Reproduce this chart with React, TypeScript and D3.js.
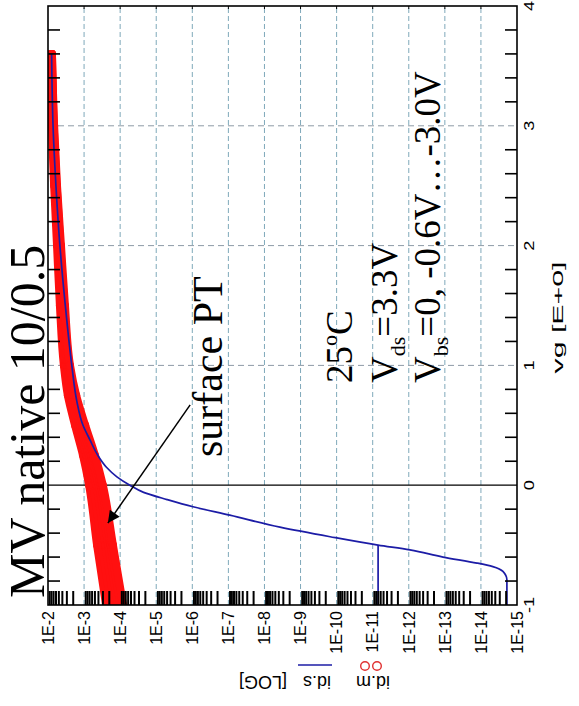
import React from "react";
import * as d3 from "d3";

// ---- axis ticks / labels ----
const vgTickValues = [-1, 0, 1, 2, 3, 4];
const vgGridValues = [1, 2, 3];
const decadeExponents = [-2, -3, -4, -5, -6, -7, -8, -9, -10, -11, -12, -13, -14, -15];
const decadeLabels = ["1E-2", "1E-3", "1E-4", "1E-5", "1E-6", "1E-7", "1E-8", "1E-9", "1E-10", "1E-11", "1E-12", "1E-13", "1E-14", "1E-15"];

// ---- measured id (log10 A), one series per Vbs ----
const vgMeas = [-1, -0.5, 0, 0.25, 0.5, 0.75, 1, 1.5, 2, 2.5, 3, 3.6];
const idmVbs0 = [-3.61, -3.36, -3.14, -2.97, -2.75, -2.55, -2.44, -2.33, -2.25, -2.17, -2.11, -2.08];
const idmVbsM06 = [-3.75, -3.49, -3.25, -3.07, -2.83, -2.62, -2.49, -2.37, -2.28, -2.19, -2.13, -2.09];
const idmVbsM12 = [-3.85, -3.59, -3.34, -3.14, -2.89, -2.67, -2.53, -2.4, -2.31, -2.21, -2.14, -2.1];
const idmVbsM18 = [-3.94, -3.67, -3.41, -3.2, -2.94, -2.71, -2.56, -2.43, -2.33, -2.22, -2.15, -2.1];
const idmVbsM24 = [-4.01, -3.74, -3.47, -3.26, -2.99, -2.74, -2.59, -2.45, -2.34, -2.24, -2.16, -2.11];
const idmVbsM30 = [-4.08, -3.8, -3.52, -3.3, -3.03, -2.78, -2.61, -2.47, -2.36, -2.25, -2.17, -2.11];
const idmSeries = [idmVbs0, idmVbsM06, idmVbsM12, idmVbsM18, idmVbsM24, idmVbsM30];

// ---- simulated id (log10 A) ----
const vgSim = [-1.0, -0.79, -0.72, -0.68, -0.65, -0.6, -0.54, -0.5, -0.43, -0.35, -0.25, -0.18, -0.12, -0.06, 0.0, 0.07, 0.15, 0.25, 0.38, 0.5, 0.7, 1.0, 1.5, 2.0, 2.5, 3.0, 3.6];
const idsSim = [-14.72, -14.72, -14.61, -14.33, -13.89, -12.95, -12.03, -11.15, -9.82, -8.43, -7.04, -6.02, -5.3, -4.65, -4.27, -3.91, -3.62, -3.38, -3.16, -2.97, -2.8, -2.66, -2.48, -2.33, -2.22, -2.14, -2.1];
const vgSimFloor = [-1.0, -0.5];
const idsSimFloor = [-11.15, -11.15];

// annotation arrow: [vg, log10 id]
const arrowFrom = [0.67, -5.94];
const arrowTo = [-0.316, -3.66];

const SANS = "'Liberation Sans', Arial, sans-serif";
const SERIF = "'Liberation Serif', 'Times New Roman', serif";
const RED = "#ff1010";
const BLUE = "#1c1ca6";

export default function App() {
  // plot frame on the page
  const left = 48;
  const bottom = 605;
  const IW = 599; // vg axis length
  const IH = 469; // log axis length

  const x = d3.scaleLinear().domain([-1, 4]).range([0, IW]);
  const y = d3.scaleLog().domain([1e-2, 1e-15]).range([0, IH]);

  const line = d3
    .line<[number, number]>()
    .x((d) => x(d[0]))
    .y((d) => y(Math.pow(10, d[1])))
    .curve(d3.curveMonotoneX);

  const minorVg = d3.range(-5, 21).filter((i) => i % 5 !== 0).map((i) => i / 5);
  const minorLog: number[] = [];
  for (let e = -15; e <= -3; e++) {
    for (let m = 2; m <= 9; m++) minorLog.push(m * Math.pow(10, e));
  }
  const gridDecades = decadeExponents.slice(1, -1);

  return (
    <svg
      width={579}
      height={706}
      style={{ position: "absolute", left: 0, top: 0, background: "#fff" }}
    >
      <defs>
        <clipPath id="plotClip">
          <rect x={0} y={0} width={IW} height={IH} />
        </clipPath>
        <marker
          id="arrowHead"
          viewBox="0 0 10 10"
          refX={10}
          refY={5}
          markerUnits="userSpaceOnUse"
          markerWidth={17}
          markerHeight={12}
          orient="auto"
        >
          <path d="M0,0 L10,5 L0,10 z" fill="#000" />
        </marker>
      </defs>
      <rect x={0} y={0} width={579} height={706} fill="#fff" />

      {/* chart drawn with vg running up the page and log id running right */}
      <g transform={`translate(${left},${bottom}) rotate(-90)`}>
        {/* decade grid */}
        {gridDecades.map((e) => (
          <line
            key={"gd" + e}
            x1={0}
            x2={IW}
            y1={y(Math.pow(10, e))}
            y2={y(Math.pow(10, e))}
            stroke="#7fa9ba"
            strokeWidth={1}
            strokeDasharray="5,3"
          />
        ))}
        {vgGridValues.map((v) => (
          <line
            key={"gv" + v}
            x1={x(v)}
            x2={x(v)}
            y1={0}
            y2={IH}
            stroke="#8d9aa6"
            strokeWidth={1}
            strokeDasharray="6,4"
          />
        ))}
        <line x1={x(0)} x2={x(0)} y1={0} y2={IH} stroke="#000" strokeWidth={1.2} />

        {/* measured id */}
        <g clipPath="url(#plotClip)">
          {idmSeries.map((s, i) => {
            const pts = vgMeas.map((v, j) => [v, s[j]] as [number, number]);
            return (
              <g key={"m" + i}>
                <path
                  d={line(pts) || ""}
                  fill="none"
                  stroke={RED}
                  strokeWidth={8}
                  strokeLinecap="round"
                  strokeLinejoin="round"
                />
                {pts.map((p, j) => (
                  <circle
                    key={j}
                    cx={x(p[0])}
                    cy={y(Math.pow(10, p[1]))}
                    r={4}
                    fill={RED}
                  />
                ))}
              </g>
            );
          })}

          {/* simulated id */}
          <path
            d={line(vgSim.map((v, j) => [v, idsSim[j]] as [number, number])) || ""}
            fill="none"
            stroke={BLUE}
            strokeWidth={1.7}
          />
          <path
            d={line(vgSimFloor.map((v, j) => [v, idsSimFloor[j]] as [number, number])) || ""}
            fill="none"
            stroke={BLUE}
            strokeWidth={1.7}
          />
        </g>

        {/* ticks on the vg edges */}
        {minorVg.map((v) => (
          <g key={"tv" + v}>
            <line x1={x(v)} x2={x(v)} y1={IH - 12} y2={IH} stroke="#000" strokeWidth={1.6} />
            <line x1={x(v)} x2={x(v)} y1={0} y2={12} stroke="#000" strokeWidth={1.6} />
          </g>
        ))}
        {/* minor log ticks */}
        {minorLog.map((m, i) => (
          <line key={"tl" + i} x1={0} x2={14} y1={y(m)} y2={y(m)} stroke="#000" strokeWidth={2} />
        ))}
        {gridDecades.map((e) => (
          <line
            key={"td" + e}
            x1={IW - 3}
            x2={IW}
            y1={y(Math.pow(10, e))}
            y2={y(Math.pow(10, e))}
            stroke="#000"
            strokeWidth={1}
          />
        ))}
        <rect x={0} y={0} width={IW} height={IH} fill="none" stroke="#000" strokeWidth={1.6} />

        {/* log axis labels */}
        {decadeExponents.map((e, i) => (
          <text
            key={"ll" + e}
            x={-6}
            y={y(Math.pow(10, e))}
            dy="0.36em"
            textAnchor="end"
            fontFamily={SANS}
            fontSize={16}
            fill="#000"
          >
            {decadeLabels[i]}
          </text>
        ))}

        {/* vg axis labels */}
        {vgTickValues.map((v) => (
          <text
            key={"vl" + v}
            transform={`translate(${x(v)},${IH + 17}) scale(1.3,1)`}
            textAnchor="middle"
            fontFamily={SANS}
            fontSize={14}
            fill="#000"
          >
            {v === -1 ? "-1" : String(v)}
          </text>
        ))}
        <text
          x={x(1.4)}
          y={IH + 46}
          textAnchor="middle"
          fontFamily={SANS}
          fontSize={15}
          textLength={112}
          lengthAdjust="spacingAndGlyphs"
          fill="#000"
        >
          vg [E+0]
        </text>

        {/* annotations */}
        <text x={7} y={-4} fontFamily={SERIF} fontSize={50} fill="#000">
          MV native 10/0.5
        </text>
        <text x={148} y={174} fontFamily={SERIF} fontSize={42} fill="#000">
          surface PT
        </text>
        <text x={222} y={304} fontFamily={SERIF} fontSize={37} fill="#000">
          25
          <tspan fontSize={22} dy={-15}>
            o
          </tspan>
          <tspan dy={15}>C</tspan>
        </text>
        <text x={222} y={349} fontFamily={SERIF} fontSize={37} fill="#000">
          V
          <tspan fontSize={22} dy={8}>
            ds
          </tspan>
          <tspan dy={-8}>=3.3V</tspan>
        </text>
        <text x={222} y={392} fontFamily={SERIF} fontSize={37} fill="#000">
          V
          <tspan fontSize={22} dy={8}>
            bs
          </tspan>
          <tspan dy={-8}>=0, -0.6V…-3.0V</tspan>
        </text>
        <line
          x1={x(arrowFrom[0])}
          y1={y(Math.pow(10, arrowFrom[1]))}
          x2={x(arrowTo[0])}
          y2={y(Math.pow(10, arrowTo[1]))}
          stroke="#000"
          strokeWidth={1.5}
          markerEnd="url(#arrowHead)"
        />
      </g>

      {/* log axis title with series keys */}
      <g>
        <circle cx={365} cy={666} r={4.3} fill="none" stroke="#e03030" strokeWidth={1.4} />
        <circle cx={377} cy={666} r={4.3} fill="none" stroke="#e03030" strokeWidth={1.4} />
        <line x1={298} x2={332} y1={665} y2={665} stroke={BLUE} strokeWidth={1.6} />
        <text transform="translate(390,676) rotate(180)" fontFamily={SANS} fontSize={18} fill="#000">
          id.m
        </text>
        <text transform="translate(331,676) rotate(180)" fontFamily={SANS} fontSize={18} fill="#000">
          id.s
        </text>
        <text transform="translate(287,676) rotate(180)" fontFamily={SANS} fontSize={18} fill="#000">
          [LOG]
        </text>
      </g>
    </svg>
  );
}
